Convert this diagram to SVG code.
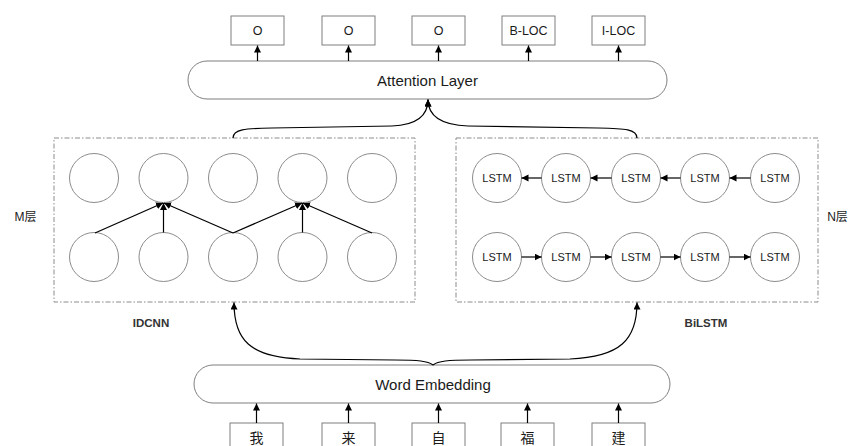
<svg xmlns="http://www.w3.org/2000/svg" width="848" height="446" viewBox="0 0 848 446">
<style>
  text { font-family: "Liberation Sans", "Noto Sans CJK SC", sans-serif; fill: #1a1a1a; text-anchor: middle; dominant-baseline: central; }
  .box { fill: #fff; stroke: #7f7f7f; stroke-width: 1; }
  .layer { fill: #fff; stroke: #7f7f7f; stroke-width: 1; }
  .group { fill: none; stroke: #8c8c8c; stroke-width: 1; stroke-dasharray: 5 2 1.5 2; }
  .cell { fill: #fff; stroke: #8c8c8c; stroke-width: 1; }
  .conn { fill: none; stroke: #000; stroke-width: 1.2; marker-end: url(#arr); }
  .lbl { font-size: 12.5px; }
  .side { font-size: 12px; }
  .cn { font-family: "Noto Sans CJK SC", sans-serif; font-size: 14px; }
  .lstm { font-size: 11px; }
  .name { font-size: 11.5px; font-weight: bold; fill: #333; }
</style>
<defs>
  <marker id="arr" markerUnits="userSpaceOnUse" markerWidth="8" markerHeight="8" refX="7" refY="3.5" orient="auto">
    <path d="M0,0 L7,3.5 L0,7 z" fill="#000"/>
  </marker>
</defs>

<!-- output tags -->
<g id="out1"><rect class="box" x="231" y="16" width="53" height="29"/><text class="lbl" x="257.5" y="30.5">O</text></g>
<g id="out2"><rect class="box" x="322" y="16" width="53" height="29"/><text class="lbl" x="348.5" y="30.5">O</text></g>
<g id="out3"><rect class="box" x="412" y="16" width="53" height="29"/><text class="lbl" x="438.5" y="30.5">O</text></g>
<g id="out4"><rect class="box" x="502" y="16" width="53" height="29"/><text class="lbl" x="528.5" y="30.5">B-LOC</text></g>
<g id="out5"><rect class="box" x="592" y="16" width="53" height="29"/><text class="lbl" x="618.5" y="30.5">I-LOC</text></g>

<!-- attention layer -->
<g id="attention"><rect class="layer" x="188" y="61" width="479" height="38" rx="19" ry="19"/><text x="427.5" y="80" style="font-size:15px">Attention Layer</text></g>

<!-- IDCNN group -->
<g id="idcnn">
  <rect class="group" x="54" y="138" width="361" height="164"/>
  <circle class="cell" cx="94" cy="178" r="24.5"/>
  <circle class="cell" cx="163.5" cy="178" r="24.5"/>
  <circle class="cell" cx="233" cy="178" r="24.5"/>
  <circle class="cell" cx="302.5" cy="178" r="24.5"/>
  <circle class="cell" cx="372" cy="178" r="24.5"/>
  <circle class="cell" cx="94" cy="257" r="24.5"/>
  <circle class="cell" cx="163.5" cy="257" r="24.5"/>
  <circle class="cell" cx="233" cy="257" r="24.5"/>
  <circle class="cell" cx="302.5" cy="257" r="24.5"/>
  <circle class="cell" cx="372" cy="257" r="24.5"/>
</g>
<g id="idcnn-label"><text class="name" x="151" y="323">IDCNN</text></g>
<g id="m-label"><text class="side" x="25.5" y="217">M层</text></g>

<!-- BiLSTM group -->
<g id="bilstm">
  <rect class="group" x="456" y="138" width="362" height="164"/>
  <g id="lstm-b1"><circle class="cell" cx="497" cy="178" r="24.5"/><text class="lstm" x="497" y="178">LSTM</text></g>
  <g id="lstm-b2"><circle class="cell" cx="566" cy="178" r="24.5"/><text class="lstm" x="566" y="178">LSTM</text></g>
  <g id="lstm-b3"><circle class="cell" cx="636" cy="178" r="24.5"/><text class="lstm" x="636" y="178">LSTM</text></g>
  <g id="lstm-b4"><circle class="cell" cx="705" cy="178" r="24.5"/><text class="lstm" x="705" y="178">LSTM</text></g>
  <g id="lstm-b5"><circle class="cell" cx="775" cy="178" r="24.5"/><text class="lstm" x="775" y="178">LSTM</text></g>
  <g id="lstm-f1"><circle class="cell" cx="497" cy="257" r="24.5"/><text class="lstm" x="497" y="257">LSTM</text></g>
  <g id="lstm-f2"><circle class="cell" cx="566" cy="257" r="24.5"/><text class="lstm" x="566" y="257">LSTM</text></g>
  <g id="lstm-f3"><circle class="cell" cx="636" cy="257" r="24.5"/><text class="lstm" x="636" y="257">LSTM</text></g>
  <g id="lstm-f4"><circle class="cell" cx="705" cy="257" r="24.5"/><text class="lstm" x="705" y="257">LSTM</text></g>
  <g id="lstm-f5"><circle class="cell" cx="775" cy="257" r="24.5"/><text class="lstm" x="775" y="257">LSTM</text></g>
</g>
<g id="bilstm-label"><text class="name" x="706" y="323">BiLSTM</text></g>
<g id="n-label"><text class="side" x="837.5" y="217">N层</text></g>

<!-- word embedding -->
<g id="embedding"><rect class="layer" x="194" y="365" width="476" height="38" rx="19" ry="19"/><text x="433" y="384.5" style="font-size:15px">Word Embedding</text></g>

<!-- input chars -->
<g id="in1"><rect class="box" x="230" y="423" width="53" height="30"/><text class="cn" x="256.5" y="437">我</text></g>
<g id="in2"><rect class="box" x="322" y="423" width="53" height="30"/><text class="cn" x="348.5" y="437">来</text></g>
<g id="in3"><rect class="box" x="412" y="423" width="53" height="30"/><text class="cn" x="438.5" y="437">自</text></g>
<g id="in4"><rect class="box" x="501" y="423" width="53" height="30"/><text class="cn" x="527.5" y="437">福</text></g>
<g id="in5"><rect class="box" x="592" y="423" width="53" height="30"/><text class="cn" x="618.5" y="437">建</text></g>

<!-- connectors -->
<g id="connectors">
  <!-- attention to outputs -->
  <line class="conn" x1="257.5" y1="61" x2="257.5" y2="45.5"/>
  <line class="conn" x1="348.5" y1="61" x2="348.5" y2="45.5"/>
  <line class="conn" x1="438.5" y1="61" x2="438.5" y2="45.5"/>
  <line class="conn" x1="528.5" y1="61" x2="528.5" y2="45.5"/>
  <line class="conn" x1="618.5" y1="61" x2="618.5" y2="45.5"/>
  <!-- groups to attention -->
  <path class="conn" d="M233,138 C233,129 245,128.5 272,128 L392,126 C418,125 428,115 428,99.5"/>
  <path class="conn" d="M637,138 C637,129 625,128.5 598,128 L468,126 C440,125 428,115 428,99.5"/>
  <!-- embedding to groups -->
  <path class="conn" d="M433,365 C428,361 418,360 395,360 L300,359 C250,357 234,340 234,302.5"/>
  <path class="conn" d="M433,365 C438,361 448,360 471,360 L570,359 C620,357 637,340 637,302.5"/>
  <!-- inputs to embedding -->
  <line class="conn" x1="256.5" y1="423" x2="256.5" y2="403.5"/>
  <line class="conn" x1="348.5" y1="423" x2="348.5" y2="403.5"/>
  <line class="conn" x1="438.5" y1="423" x2="438.5" y2="403.5"/>
  <line class="conn" x1="527.5" y1="423" x2="527.5" y2="403.5"/>
  <line class="conn" x1="618.5" y1="423" x2="618.5" y2="403.5"/>
  <!-- IDCNN dilated conv -->
  <line class="conn" x1="95" y1="233" x2="163" y2="203"/>
  <line class="conn" x1="163.5" y1="232.5" x2="163.5" y2="203"/>
  <line class="conn" x1="233" y1="233" x2="164" y2="203"/>
  <line class="conn" x1="233" y1="233" x2="302" y2="203"/>
  <line class="conn" x1="302.5" y1="232.5" x2="302.5" y2="203"/>
  <line class="conn" x1="372" y1="233" x2="303" y2="203"/>
  <!-- backward LSTM -->
  <line class="conn" x1="750.5" y1="178" x2="729.5" y2="178"/>
  <line class="conn" x1="680.5" y1="178" x2="660.5" y2="178"/>
  <line class="conn" x1="611.5" y1="178" x2="590.5" y2="178"/>
  <line class="conn" x1="541.5" y1="178" x2="521.5" y2="178"/>
  <!-- forward LSTM -->
  <line class="conn" x1="521.5" y1="257" x2="541.5" y2="257"/>
  <line class="conn" x1="590.5" y1="257" x2="611.5" y2="257"/>
  <line class="conn" x1="660.5" y1="257" x2="680.5" y2="257"/>
  <line class="conn" x1="729.5" y1="257" x2="750.5" y2="257"/>
</g>
</svg>
